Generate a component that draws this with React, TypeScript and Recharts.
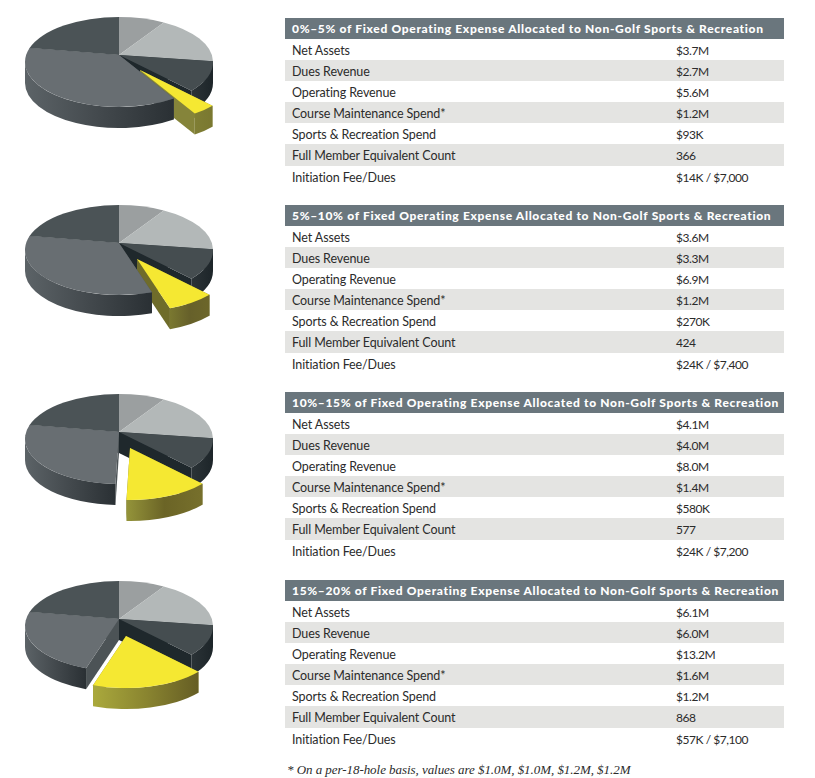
import React from 'react';
import { PieChart, Pie } from 'recharts';

// pie shares, percent of the disc, clockwise from 12 o'clock
const sliceNames = ['a', 'b', 'c', 'sports', 'd', 'e'];
const sliceA = 7.9;
const sliceB = 16.8;
const sliceC = 11.3;
const sportsShare = [4.1, 8.3, 14.6, 19.7];
const sliceD = [39.9, 35.7, 29.4, 24.3];
const sliceE = 20;

const titles = [
  '0%–5% of Fixed Operating Expense Allocated to Non-Golf Sports & Recreation',
  '5%–10% of Fixed Operating Expense Allocated to Non-Golf Sports & Recreation',
  '10%–15% of Fixed Operating Expense Allocated to Non-Golf Sports & Recreation',
  '15%–20% of Fixed Operating Expense Allocated to Non-Golf Sports & Recreation',
];
const rowLabels = [
  'Net Assets',
  'Dues Revenue',
  'Operating Revenue',
  'Course Maintenance Spend*',
  'Sports & Recreation Spend',
  'Full Member Equivalent Count',
  'Initiation Fee/Dues',
];
const rowValues = [
  ['$3.7M', '$2.7M', '$5.6M', '$1.2M', '$93K', '366', '$14K / $7,000'],
  ['$3.6M', '$3.3M', '$6.9M', '$1.2M', '$270K', '424', '$24K / $7,400'],
  ['$4.1M', '$4.0M', '$8.0M', '$1.4M', '$580K', '577', '$24K / $7,200'],
  ['$6.1M', '$6.0M', '$13.2M', '$1.6M', '$1.2M', '868', '$57K / $7,100'],
];
const footnote = '* On a per-18-hole basis, values are $1.0M, $1.0M, $1.2M, $1.2M';

const topColors: Record<string, string> = {
  a: '#9b9fa0',
  b: '#b3b8b8',
  c: '#454d50',
  sports: '#f5e832',
  d: '#686e72',
  e: '#4b5356',
};
const edgeColors: Record<string, string> = {
  c: '#1f282c',
  d: '#4c5356',
};
const sportsEdge = ['#85843a', '#6f6c2a', '#7a7830', '#8a8732'];
const wallStops: Record<string, string[]> = {
  c: ['#2b3337', '#1d2529'],
  d: ['#5c6367', '#43494d', '#2a3034'],
};
const sportsWall = [
  ['#7f7e34', '#7a7830'],
  ['#7a7830', '#66602a', '#6c662a'],
  ['#94943a', '#6b6426', '#77702c'],
  ['#aaa93c', '#8a8530', '#655d24'],
];

// layout of the four rows
const tableTops = [18, 205, 392, 580];
const pieTops = [55, 243, 432, 619];
const explode = [
  { x: 21, y: 15 },
  { x: 18, y: 16 },
  { x: 11, y: 16 },
  { x: 7, y: 17 },
];
const RX = 94;
const RY = 45;
const APEX_SHIFT = 7; // perspective: the apex sits above the ellipse centre
const DEPTH = 21;
const ROW_H = 21.1;

const makeSlice = (panel: number) => (props: any) => {
  const { cx, cy, startAngle, endAngle, fill, payload } = props;
  const name = payload.name;
  const isSports = name === 'sports';
  const off = isSports ? explode[panel] : { x: 0, y: 0 };
  const ax = cx + off.x;
  const ay = cy + off.y;
  const pt = (deg: number, drop = 0) => {
    const r = (deg * Math.PI) / 180;
    return `${ax + RX * Math.cos(r)} ${ay + APEX_SHIFT - RY * Math.sin(r) + drop}`;
  };
  const large = Math.abs(startAngle - endAngle) > 180 ? 1 : 0;
  const top = `M${ax} ${ay}L${pt(startAngle)}A${RX} ${RY} 0 ${large} 1 ${pt(endAngle)}Z`;

  const stops = isSports ? sportsWall[panel] : wallStops[name];
  const edge = isSports ? sportsEdge[panel] : edgeColors[name];
  const from = Math.min(startAngle, 0);
  const to = Math.max(endAngle, -180);
  const hasWall = from > to && stops;
  const wall = `M${pt(from)}A${RX} ${RY} 0 0 1 ${pt(to)}L${pt(to, DEPTH)}A${RX} ${RY} 0 0 0 ${pt(from, DEPTH)}Z`;
  const radial = (deg: number) =>
    `M${ax} ${ay}L${pt(deg)}L${pt(deg, DEPTH)}L${ax} ${ay + DEPTH}Z`;
  const gradId = `wall-${panel}-${name}`;

  return (
    <g>
      {hasWall && (
        <defs>
          <linearGradient id={gradId} x1="0" y1="0" x2="1" y2="0">
            {stops.map((c: string, i: number) => (
              <stop key={c} offset={i / (stops.length - 1)} stopColor={c} />
            ))}
          </linearGradient>
        </defs>
      )}
      {edge && <path d={radial(startAngle)} fill={edge} />}
      {edge && <path d={radial(endAngle)} fill={edge} />}
      {hasWall && <path d={wall} fill={`url(#${gradId})`} />}
      <path d={top} fill={fill} />
    </g>
  );
};

const Disc = ({ panel }: { panel: number }) => {
  const values = [sliceA, sliceB, sliceC, sportsShare[panel], sliceD[panel], sliceE];
  const rows = sliceNames.map((name, i) => ({ name, value: values[i], fill: topColors[name] }));
  const shape = makeSlice(panel);
  return (
    <div style={{ position: 'absolute', left: 0, top: pieTops[panel] - 55 }}>
      <PieChart width={260} height={190} margin={{ top: 0, right: 0, bottom: 0, left: 0 }}>
        <Pie
          data={rows}
          dataKey="value"
          nameKey="name"
          cx={119}
          cy={55}
          outerRadius={RX}
          startAngle={90}
          endAngle={-270}
          stroke="none"
          isAnimationActive={false}
          shape={shape}
          activeShape={shape}
          inactiveShape={shape}
          rootTabIndex={-1}
        />
      </PieChart>
    </div>
  );
};

const Table = ({ panel }: { panel: number }) => (
  <div style={{ position: 'absolute', left: 285, top: tableTops[panel], width: 499 }}>
    <div
      style={{
        height: 21,
        lineHeight: '22px',
        background: '#6a767d',
        color: '#fff',
        fontFamily: 'Lato, sans-serif',
        fontWeight: 900,
        fontSize: 12,
        letterSpacing: 0.67,
        paddingLeft: 7,
        whiteSpace: 'nowrap',
      }}
    >
      {titles[panel]}
    </div>
    {rowLabels.map((label, i) => (
      <div
        key={label}
        style={{
          position: 'relative',
          height: ROW_H,
          lineHeight: '23px',
          background: i % 2 === 1 ? '#e4e4e2' : '#fff',
          color: '#2b2b2b',
          fontSize: 12.5,
          whiteSpace: 'nowrap',
        }}
      >
        <span style={{ position: 'absolute', left: 7, letterSpacing: -0.1 }}>{label}</span>
        <span style={{ position: 'absolute', left: 391, fontSize: 12, letterSpacing: -0.45 }}>
          {rowValues[panel][i]}
        </span>
      </div>
    ))}
  </div>
);

export default function App() {
  return (
    <div
      style={{
        position: 'absolute',
        left: 0,
        top: 0,
        width: 815,
        height: 778,
        overflow: 'hidden',
        background: '#fff',
        fontFamily: 'Lato, sans-serif',
      }}
    >
      {titles.map((t, i) => (
        <React.Fragment key={t}>
          <Disc panel={i} />
          <Table panel={i} />
        </React.Fragment>
      ))}
      <div
        style={{
          position: 'absolute',
          left: 287,
          top: 762,
          fontFamily: '"Liberation Serif", serif',
          fontStyle: 'italic',
          fontSize: 13,
          letterSpacing: -0.05,
          color: '#2b2b2b',
          whiteSpace: 'nowrap',
        }}
      >
        {footnote}
      </div>
    </div>
  );
}
